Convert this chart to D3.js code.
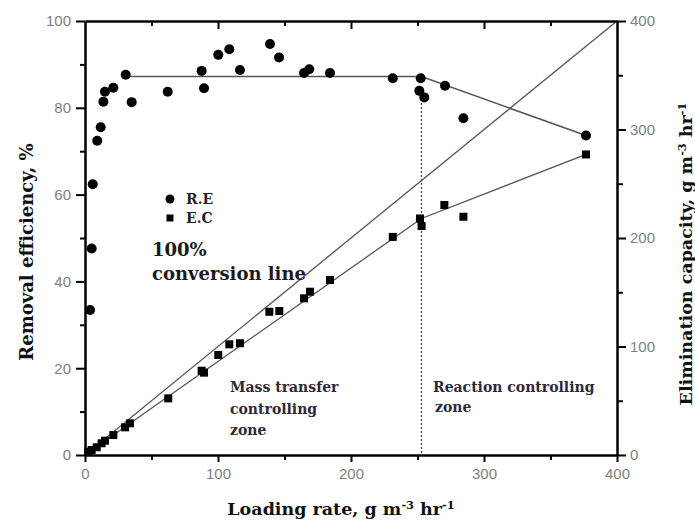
<!DOCTYPE html>
<html><head><meta charset="utf-8">
<script src="https://cdn.jsdelivr.net/npm/d3@7"></script>
<style>
body{margin:0;background:#fff;}
svg{display:block;}
</style></head>
<body>
<svg id="c" width="695" height="525"></svg>
<script>
// Removal efficiency (R.E, %) vs loading rate
const reLoading = [3.8, 5, 5.8, 9.2, 11.8, 13.8, 15, 21.3, 30.6, 35.1, 62.2, 87.7, 89.5, 100.2, 108.5, 116.5, 139.1, 145.9, 164.7, 168.6, 184.2, 231.4, 252.4, 251.4, 255.1, 270.7, 284.5, 376.7];
const reValues  = [33.4, 47.6, 62.4, 72.4, 75.5, 81.4, 83.7, 84.6, 87.6, 81.3, 83.7, 88.5, 84.5, 92.2, 93.5, 88.7, 94.7, 91.6, 88.0, 88.9, 88.0, 86.8, 86.8, 83.9, 82.4, 85.1, 77.6, 73.6];
// Elimination capacity (E.C, g m-3 hr-1) vs loading rate
const ecLoading = [2.5, 5, 8.8, 12.5, 15, 21.3, 30.1, 33.8, 62.6, 87.7, 89.5, 100.2, 108.5, 116.5, 138.6, 146.1, 164.7, 169.2, 184.2, 231.4, 251.9, 253.1, 270.2, 284.5, 376.7];
const ecValues  = [3, 4.6, 7.1, 10.8, 13.2, 18.4, 25.5, 29.2, 52.2, 77.7, 75.9, 92.2, 102, 103, 132, 132.7, 144.4, 150.5, 161.3, 201, 218, 211, 230.4, 219.6, 277];
// Trend lines
const reTrendX = [30.6, 253, 376.7];
const reTrendY = [87.2, 87.2, 73.6];
const ecTrendX = [0, 253, 376.7];
const ecTrendY = [0, 218, 277];
const convX = [0, 400];
const convY = [0, 400];
const zoneBoundary = 253;
// Ticks
const xTicks = [0, 100, 200, 300, 400];
const xMinor = [50, 150, 250, 350];
const leftTicks = [0, 20, 40, 60, 80, 100];
const leftMinor = [10, 30, 50, 70, 90];
const rightTicks = [0, 100, 200, 300, 400];
const rightMinor = [50, 150, 250, 350];

const svg = d3.select("#c");
const x = d3.scaleLinear().domain([0, 400]).range([85, 617]);
const yL = d3.scaleLinear().domain([0, 100]).range([455, 21]);
const yR = d3.scaleLinear().domain([0, 400]).range([455, 21]);

const serif = "'DejaVu Serif', 'Liberation Serif', serif";
const sans = "'Liberation Sans', Arial, sans-serif";

// lines
const lineL = d3.line().x(d => x(d[0])).y(d => yL(d[1]));
const lineR = d3.line().x(d => x(d[0])).y(d => yR(d[1]));

svg.append("path").datum(d3.zip(convX, convY)).attr("d", lineR)
  .attr("fill", "none").attr("stroke", "#555").attr("stroke-width", 1.3);
svg.append("path").datum(d3.zip(ecTrendX, ecTrendY)).attr("d", lineR)
  .attr("fill", "none").attr("stroke", "#555").attr("stroke-width", 1.3);
svg.append("path").datum(d3.zip(reTrendX, reTrendY)).attr("d", lineL)
  .attr("fill", "none").attr("stroke", "#555").attr("stroke-width", 1.5);
svg.append("line")
  .attr("x1", x(zoneBoundary)).attr("x2", x(zoneBoundary))
  .attr("y1", yL(82)).attr("y2", yL(0))
  .attr("stroke", "#444").attr("stroke-width", 1.3).attr("stroke-dasharray", "2,2");

// markers
svg.append("g").selectAll("circle").data(d3.zip(reLoading, reValues)).join("circle")
  .attr("cx", d => x(d[0])).attr("cy", d => yL(d[1])).attr("r", 5).attr("fill", "#000");
svg.append("g").selectAll("rect").data(d3.zip(ecLoading, ecValues)).join("rect")
  .attr("x", d => x(d[0]) - 4).attr("y", d => yR(d[1]) - 4)
  .attr("width", 8).attr("height", 8).attr("fill", "#000");

// axes
function styleAxis(g) {
  g.select(".domain").attr("stroke", "#000").attr("stroke-width", 2.5);
  g.selectAll(".tick line").attr("stroke", "#000").attr("stroke-width", 2);
  g.selectAll(".tick text").attr("fill", "#808080").attr("font-family", sans).attr("font-size", 15);
}
svg.append("g").attr("transform", "translate(0,455)")
  .call(d3.axisBottom(x).tickValues(xTicks).tickSize(7).tickPadding(6).tickSizeOuter(0))
  .call(styleAxis);
svg.append("g").attr("transform", "translate(0,455)")
  .call(d3.axisBottom(x).tickValues(xMinor).tickSize(5).tickFormat("").tickSizeOuter(0))
  .call(styleAxis).select(".domain").remove();
svg.append("g").attr("transform", "translate(0,21)")
  .call(d3.axisTop(x).tickValues([100, 200, 300]).tickSize(-8).tickFormat("").tickSizeOuter(0))
  .call(styleAxis);
svg.append("g").attr("transform", "translate(0,21)")
  .call(d3.axisTop(x).tickValues(xMinor).tickSize(-5).tickFormat("").tickSizeOuter(0))
  .call(styleAxis).select(".domain").remove();
svg.append("g").attr("transform", "translate(85,0)")
  .call(d3.axisLeft(yL).tickValues(leftTicks).tickSize(9).tickPadding(5).tickSizeOuter(0))
  .call(styleAxis);
svg.append("g").attr("transform", "translate(85,0)")
  .call(d3.axisLeft(yL).tickValues(leftMinor).tickSize(5).tickFormat("").tickSizeOuter(0))
  .call(styleAxis).select(".domain").remove();
svg.append("g").attr("transform", "translate(617,0)")
  .call(d3.axisRight(yR).tickValues(rightTicks).tickSize(9).tickPadding(4).tickSizeOuter(0))
  .call(styleAxis);
svg.append("g").attr("transform", "translate(617,0)")
  .call(d3.axisRight(yR).tickValues(rightMinor).tickSize(6).tickFormat("").tickSizeOuter(0))
  .call(styleAxis).select(".domain").remove();

// axis titles
function unitTitle(t, main) {
  t.append("tspan").text(main + "g m");
  t.append("tspan").text("-3").attr("font-size", "0.65em").attr("dy", "-0.5em");
  t.append("tspan").text(" hr").attr("font-size", "1em").attr("dy", "0.33em");
  t.append("tspan").text("-1").attr("font-size", "0.65em").attr("dy", "-0.5em");
}
const xt = svg.append("text").attr("x", 341).attr("y", 515).attr("text-anchor", "middle")
  .attr("font-family", serif).attr("font-weight", "bold").attr("font-size", 17.5).attr("fill", "#111");
unitTitle(xt, "Loading rate, ");

svg.append("text").attr("transform", "translate(33,252) rotate(-90)").attr("text-anchor", "middle")
  .attr("font-family", serif).attr("font-weight", "bold").attr("font-size", 18).attr("fill", "#111")
  .text("Removal efficiency, %");
const rt = svg.append("text").attr("transform", "translate(692,254) rotate(-90)").attr("text-anchor", "middle")
  .attr("font-family", serif).attr("font-weight", "bold").attr("font-size", 17.5).attr("fill", "#111");
unitTitle(rt, "Elimination capacity, ");

// legend
svg.append("circle").attr("cx", 170).attr("cy", 199).attr("r", 4.5).attr("fill", "#000");
svg.append("rect").attr("x", 166.5).attr("y", 214.5).attr("width", 7).attr("height", 7).attr("fill", "#000");
const leg = svg.append("g").attr("font-family", serif).attr("font-weight", "bold").attr("font-size", 14).attr("fill", "#222");
leg.append("text").attr("x", 186).attr("y", 204).text("R.E");
leg.append("text").attr("x", 186).attr("y", 223).text("E.C");

// annotations
const ann = svg.append("g").attr("font-family", serif).attr("font-weight", "bold").attr("fill", "#1a1a1a");
ann.append("text").attr("x", 152).attr("y", 256).attr("font-size", 18).text("100%");
ann.append("text").attr("x", 152).attr("y", 280).attr("font-size", 18).text("conversion line");
const ann2 = svg.append("g").attr("font-family", serif).attr("font-weight", "bold").attr("font-size", 14).attr("fill", "#2e2838");
ann2.append("text").attr("x", 230).attr("y", 392).text("Mass transfer");
ann2.append("text").attr("x", 230).attr("y", 414).text("controlling");
ann2.append("text").attr("x", 230).attr("y", 435).text("zone");
ann2.append("text").attr("x", 433).attr("y", 392).text("Reaction controlling");
ann2.append("text").attr("x", 435).attr("y", 412).text("zone");
</script>
</body></html>
